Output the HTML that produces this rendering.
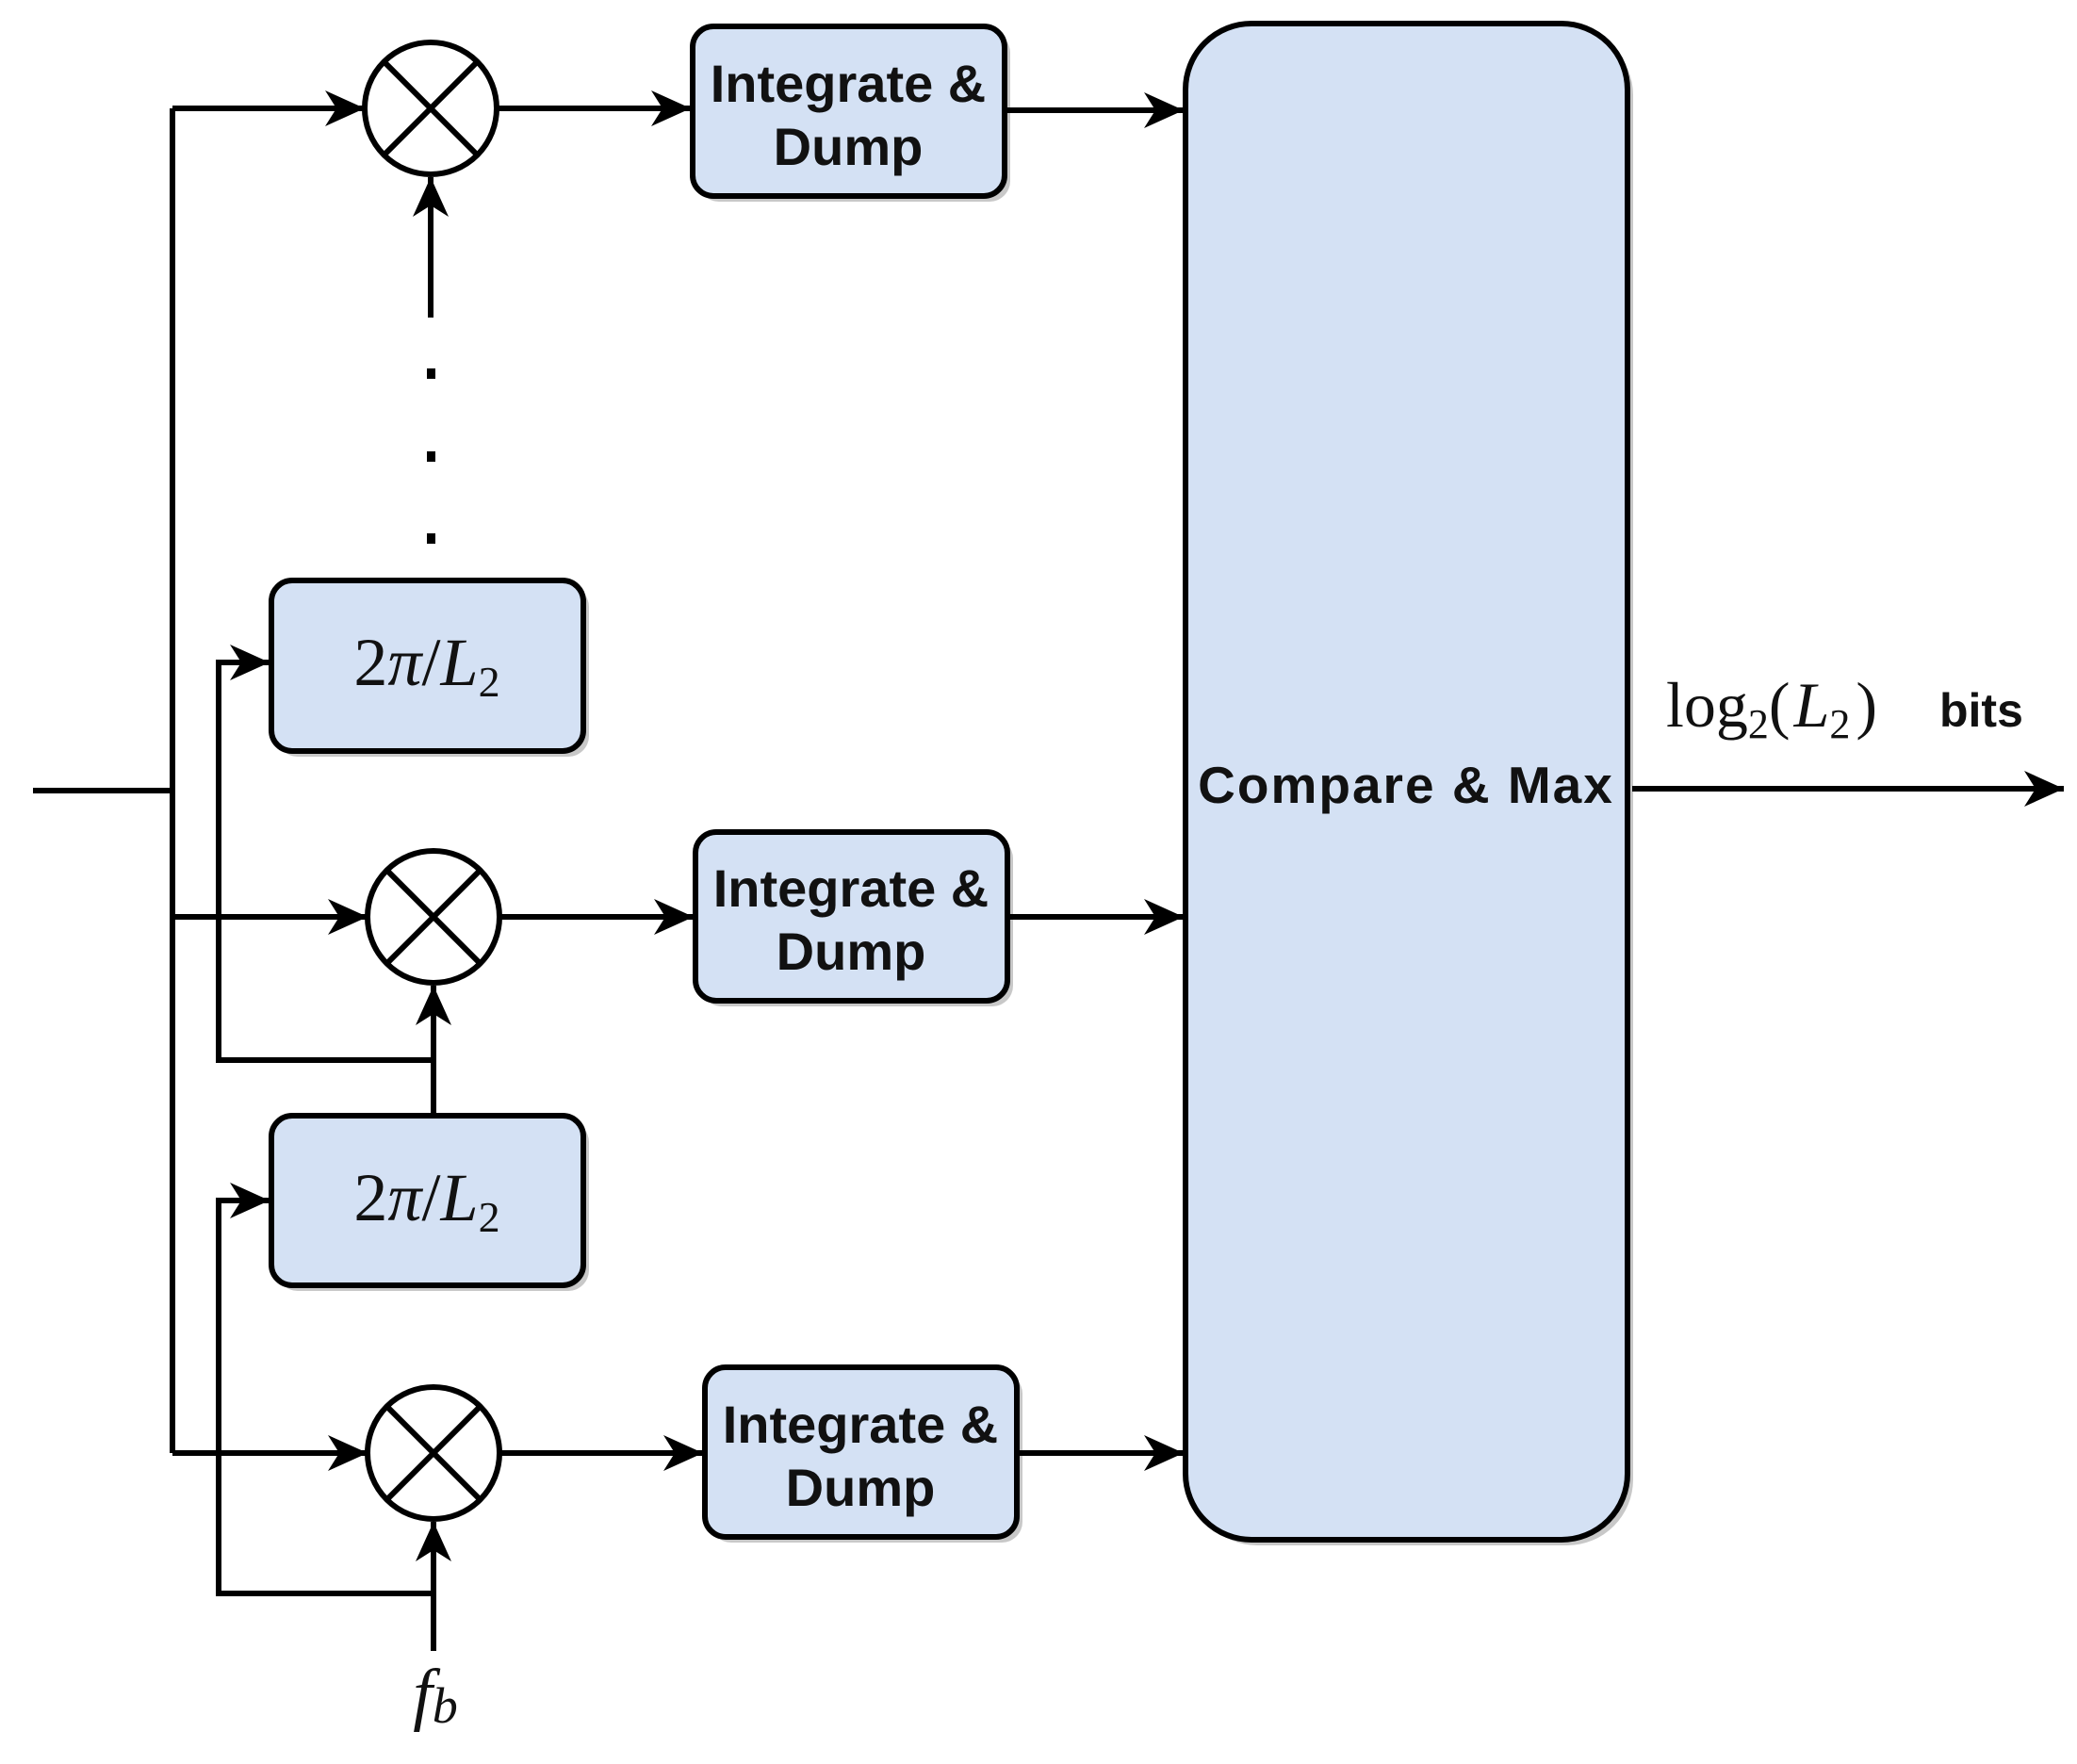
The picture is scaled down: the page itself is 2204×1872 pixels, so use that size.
<!DOCTYPE html>
<html><head><meta charset="utf-8"><style>
html,body{margin:0;padding:0;background:#fff;}
svg{display:block;}
.box{fill:#d4e1f4;stroke:#000;stroke-width:6;}
.sh{fill:#c8c8c8;}
.ln{stroke:#000;stroke-width:6;fill:none;}
.t{font-family:"Liberation Sans",sans-serif;font-weight:bold;font-size:55px;fill:#111;text-anchor:middle;}
.m{font-family:"Liberation Serif",serif;font-size:72px;fill:#111;text-anchor:middle;}
</style></head><body>
<svg width="2204" height="1872" viewBox="0 0 2204 1872" xmlns="http://www.w3.org/2000/svg">
<defs>
<marker id="a" markerUnits="userSpaceOnUse" markerWidth="46" markerHeight="42" refX="42" refY="21" orient="auto">
<path d="M0,2 L42,21 L0,40 L12,21 Z" fill="#000"/>
</marker>
</defs>
<rect class="sh" x="741" y="34" width="331" height="180" rx="22"/>
<rect class="sh" x="744" y="889" width="331" height="179" rx="22"/>
<rect class="sh" x="754" y="1457" width="331" height="180" rx="22"/>
<rect class="sh" x="1264" y="31" width="469" height="1609" rx="70"/>
<rect class="sh" x="294" y="622" width="331" height="181" rx="22"/>
<rect class="sh" x="294" y="1190" width="331" height="180" rx="22"/>

<path class="ln" d="M35,839 H183"/>
<path class="ln" d="M183,115 V1542"/>
<path class="ln" d="M183,115 H387" marker-end="url(#a)"/>
<path class="ln" d="M183,973 H390" marker-end="url(#a)"/>
<path class="ln" d="M183,1542 H390" marker-end="url(#a)"/>

<g class="ln">
<circle cx="457" cy="115" r="70" fill="#fff"/>
<path d="M408,66 L506,164 M506,66 L408,164"/>
<circle cx="460" cy="973" r="70" fill="#fff"/>
<path d="M411,924 L509,1022 M509,924 L411,1022"/>
<circle cx="460" cy="1542" r="70" fill="#fff"/>
<path d="M411,1493 L509,1591 M509,1493 L411,1591"/>
</g>

<path class="ln" d="M457,337 V188" marker-end="url(#a)"/>
<rect x="453" y="391" width="9" height="11" fill="#000"/>
<rect x="453" y="479" width="9" height="11" fill="#000"/>
<rect x="453" y="566" width="9" height="11" fill="#000"/>

<path class="ln" d="M460,1125 H232 V703 H286" marker-end="url(#a)"/>
<path class="ln" d="M460,1184 V1046" marker-end="url(#a)"/>
<path class="ln" d="M460,1691 H232 V1274 H286" marker-end="url(#a)"/>
<path class="ln" d="M460,1752 V1615" marker-end="url(#a)"/>

<path class="ln" d="M527,115 H733" marker-end="url(#a)"/>
<path class="ln" d="M530,973 H736" marker-end="url(#a)"/>
<path class="ln" d="M530,1542 H746" marker-end="url(#a)"/>
<path class="ln" d="M1066,117 H1256" marker-end="url(#a)"/>
<path class="ln" d="M1069,973 H1256" marker-end="url(#a)"/>
<path class="ln" d="M1078,1542 H1256" marker-end="url(#a)"/>
<path class="ln" d="M1732,837 H2190" marker-end="url(#a)"/>

<rect class="box" x="735" y="28" width="331" height="180" rx="22"/>
<rect class="box" x="738" y="883" width="331" height="179" rx="22"/>
<rect class="box" x="748" y="1451" width="331" height="180" rx="22"/>
<rect class="box" x="1258" y="25" width="469" height="1609" rx="70"/>
<rect class="box" x="288" y="616" width="331" height="181" rx="22"/>
<rect class="box" x="288" y="1184" width="331" height="180" rx="22"/>

<text class="t" x="900" y="108" style="font-size:56px">Integrate &amp;</text>
<text class="t" x="900" y="175" style="font-size:56px">Dump</text>
<text class="t" x="903" y="962" style="font-size:56px">Integrate &amp;</text>
<text class="t" x="903" y="1029" style="font-size:56px">Dump</text>
<text class="t" x="913" y="1531" style="font-size:56px">Integrate &amp;</text>
<text class="t" x="913" y="1598" style="font-size:56px">Dump</text>
<text class="t" x="1492" y="852" style="font-size:55px;letter-spacing:2px">Compare &amp; Max</text>

<text class="m" x="453" y="727"><tspan>2</tspan><tspan font-style="italic">π</tspan><tspan>/</tspan><tspan font-style="italic">L</tspan><tspan font-size="46" dy="12">2</tspan></text>
<text class="m" x="453" y="1295"><tspan>2</tspan><tspan font-style="italic">π</tspan><tspan>/</tspan><tspan font-style="italic">L</tspan><tspan font-size="46" dy="12">2</tspan></text>

<text class="m" x="462" y="1822" font-style="italic" style="font-size:74px">f<tspan font-size="54" dy="6">b</tspan></text>

<text x="1768" y="771" style="font-family:'Liberation Serif',serif;font-size:68px;fill:#111">log<tspan font-size="44" dy="12">2</tspan><tspan dy="-12">(</tspan><tspan font-style="italic" dx="4">L</tspan><tspan font-size="44" dy="12">2</tspan><tspan dy="-12" dx="6">)</tspan></text>
<text x="2058" y="771" style="font-family:'Liberation Sans',sans-serif;font-weight:bold;font-size:50px;fill:#111">bits</text>
</svg>
</body></html>
